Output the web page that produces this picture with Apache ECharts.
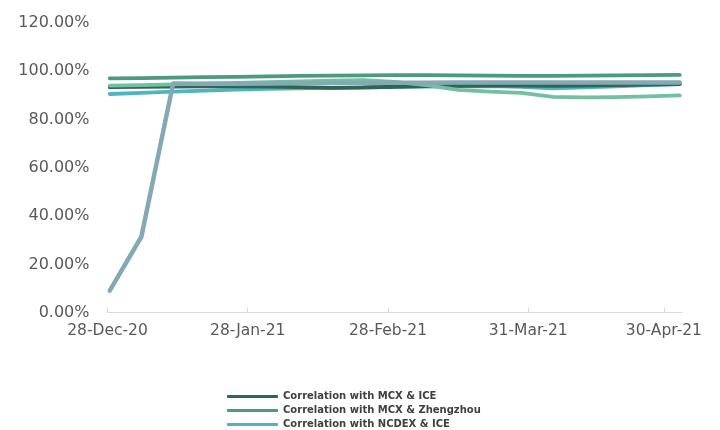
<!DOCTYPE html>
<html>
<head>
<meta charset="utf-8">
<script src="https://cdn.jsdelivr.net/npm/echarts@6/dist/echarts.min.js"></script>
<style>
  html, body { margin: 0; padding: 0; background: #fff; }
  #chart { width: 720px; height: 430px; }
</style>
</head>
<body>
<div id="chart"></div>
<script>
// weekly observations
var weeks = ['2020-12-28', '2021-01-04', '2021-01-11', '2021-01-18', '2021-01-25', '2021-02-01',
  '2021-02-08', '2021-02-15', '2021-02-22', '2021-03-01', '2021-03-08', '2021-03-15',
  '2021-03-22', '2021-03-29', '2021-04-05', '2021-04-12', '2021-04-19', '2021-04-26', '2021-05-03'];

var mcxIce = [93.3, 93.5, 93.6, 93.7, 93.7, 93.6, 93.3, 93.0, 93.1, 93.5, 93.8, 93.9, 94.0, 94.0, 93.9, 94.0, 94.2, 94.4, 94.6];
var mcxZhengzhou = [97.0, 97.1, 97.3, 97.5, 97.6, 97.8, 98.0, 98.1, 98.2, 98.3, 98.3, 98.2, 98.1, 98.0, 98.0, 98.1, 98.2, 98.3, 98.4];
var ncdexIce = [90.5, 91.0, 91.5, 91.9, 92.3, 92.6, 92.8, 93.0, 93.3, 93.5, 93.6, 93.7, 93.8, 93.5, 92.8, 93.2, 93.7, 94.2, 94.6];
var ncdexZhengzhou = [94.0, 94.2, 94.5, 94.8, 95.1, 95.4, 95.7, 96.0, 96.2, 95.5, 94.2, 92.2, 91.5, 91.0, 89.3, 89.1, 89.2, 89.5, 89.9];
var iceZhengzhou = [9.1, 31.5, 94.8, 94.7, 94.7, 94.8, 94.9, 95.0, 95.1, 95.2, 95.2, 95.3, 95.3, 95.3, 95.3, 95.3, 95.3, 95.3, 95.3];

// x axis tick dates
var tickDates = ['2020-12-28', '2021-01-28', '2021-02-28', '2021-03-31', '2021-04-30'];
var months = ['Jan', 'Feb', 'Mar', 'Apr', 'May', 'Jun', 'Jul', 'Aug', 'Sep', 'Oct', 'Nov', 'Dec'];

var DAY = 86400000;
var start = Date.UTC(2020, 11, 28);
// days since 28-Dec-20
function toDay(s) {
  var p = s.split('-');
  return Math.round((Date.UTC(+p[0], +p[1] - 1, +p[2]) - start) / DAY);
}
function dayLabel(v) {
  var d = new Date(start + Math.round(v) * DAY);
  return d.getUTCDate() + '-' + months[d.getUTCMonth()] + '-' + String(d.getUTCFullYear()).slice(2);
}
function pairs(vals) {
  // excel date axis puts each point in the middle of its day
  return weeks.map(function (w, i) { return [toDay(w) + 0.5, vals[i]]; });
}

var myChart = echarts.init(document.getElementById('chart'));

var mkLine = function (name, data, color, width) {
  return {
    name: name,
    type: 'line',
    data: pairs(data),
    symbol: 'none',
    lineStyle: { color: color, width: width, cap: 'round', join: 'round' },
    itemStyle: { color: color },
    emphasis: { disabled: true }
  };
};

var tickDays = tickDates.map(toDay);

var option = {
  animation: false,
  grid: { left: 107.5, right: 38, top: 22.7, bottom: 117.3 },
  legend: {
    orient: 'vertical',
    left: 227,
    top: 391,
    padding: 0,
    data: ['Correlation with MCX & ICE', 'Correlation with MCX & Zhengzhou', 'Correlation with NCDEX & ICE'],
    icon: 'roundRect',
    itemWidth: 51,
    itemHeight: 3,
    itemGap: 3,
    textStyle: { fontFamily: 'DejaVu Sans', fontWeight: 'bold', fontSize: 10, color: '#404040', lineHeight: 11 }
  },
  xAxis: {
    type: 'value',
    min: 0,
    max: toDay('2021-05-04'),
    axisLine: { lineStyle: { color: '#d9d9d9', width: 1 } },
    axisTick: { inside: true, length: 5, lineStyle: { color: '#d9d9d9' }, customValues: tickDays },
    splitLine: { show: false },
    axisLabel: {
      customValues: tickDays,
      color: '#595959',
      fontFamily: 'DejaVu Sans',
      fontSize: 15.5,
      margin: 10,
      formatter: dayLabel
    }
  },
  yAxis: {
    type: 'value',
    min: 0,
    max: 120,
    interval: 20,
    axisLine: { show: false },
    axisTick: { show: false },
    splitLine: { show: false },
    axisLabel: {
      color: '#595959',
      fontFamily: 'DejaVu Sans',
      fontSize: 16,
      margin: 18,
      formatter: function (v) { return v.toFixed(2) + '%'; }
    }
  },
  series: [
    mkLine('Correlation with NCDEX & ICE', ncdexIce, '#4fb4c0', 3.8),
    mkLine('Correlation with MCX & ICE', mcxIce, '#2d6654', 3.8),
    mkLine('Correlation with MCX & Zhengzhou', mcxZhengzhou, '#4e9a7f', 3.8),
    mkLine('Correlation with NCDEX & Zhengzhou', ncdexZhengzhou, '#74bea2', 3.8),
    mkLine('Correlation with ICE & Zhengzhou', iceZhengzhou, '#84a9b3', 4.5)
  ]
};

myChart.setOption(option);
</script>
</body>
</html>
